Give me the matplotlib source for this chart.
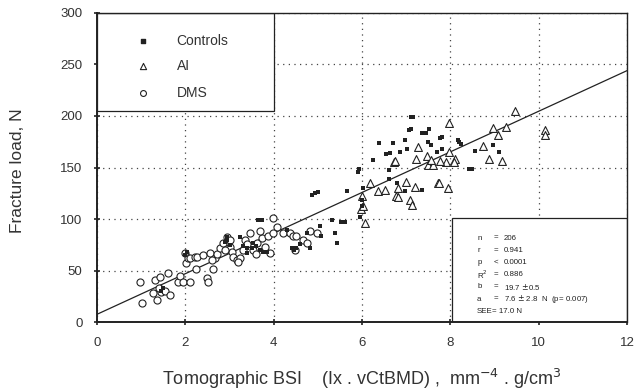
import matplotlib
matplotlib.use('Agg')
import matplotlib.pyplot as plt
from matplotlib.patches import Rectangle
import numpy as np

plt.rcParams['font.family'] = ['Liberation Sans', 'DejaVu Sans']

# data (x = tomographic BSI, y = fracture load N)
controls_x = [1.5, 1.45, 2.03, 2.0, 2.94, 2.95, 3.24, 3.39, 3.54, 3.69, 3.84, 3.73, 3.65, 3.0, 3.4,
              3.75, 4.29, 4.46, 4.5, 4.41, 4.75, 4.82, 4.86, 4.94, 5.0, 5.05, 5.07, 5.31, 5.39, 5.43,
              5.53, 5.61, 5.65, 5.95, 6.0, 6.0, 6.02, 5.93, 5.9, 6.25, 6.38, 6.6, 6.6, 6.63, 6.55,
              6.7, 6.86, 6.97, 6.97, 7.01, 7.06, 7.1, 7.11, 7.16, 7.35, 7.35, 7.52, 7.45, 7.69,
              7.77, 7.8, 7.8, 8.17, 8.2, 8.25, 8.42, 8.5, 8.56, 8.96, 9.1, 6.79, 7.5, 7.55,
              3.3, 3.5, 2.9, 3.6, 4.6]
controls_y = [33, 30, 68, 65, 83, 80, 83, 72, 77, 70, 68, 99, 99, 75, 67,
              68, 89, 70, 72, 72, 86, 72, 123, 125, 126, 93, 84, 99, 86, 77,
              97, 97, 127, 102, 113, 118, 130, 149, 146, 157, 174, 148, 139, 164, 163,
              174, 165, 177, 127, 168, 186, 187, 199, 199, 183, 128, 187, 183, 165,
              179, 168, 180, 177, 175, 173, 149, 149, 166, 172, 165, 135, 175, 172,
              74, 72, 78, 74, 76]

ai_x = [5.99, 5.98, 6.07, 6.03, 6.18, 6.36, 6.52, 6.78, 6.81, 6.73, 6.81, 7.09, 7.12, 7.2, 7.0,
        7.22, 7.26, 7.46, 7.5, 7.6, 7.57, 7.72, 7.74, 7.89, 7.94, 7.97, 7.97, 8.1, 8.08, 8.74,
        8.87, 8.97, 9.08, 9.17, 9.27, 9.46, 10.15, 10.15, 6.75, 7.77]
ai_y = [122, 110, 96, 113, 135, 127, 128, 122, 130, 155, 121, 118, 114, 131, 136,
        158, 170, 161, 152, 152, 157, 135, 135, 155, 130, 165, 193, 158, 155, 171,
        158, 188, 182, 156, 189, 205, 186, 182, 156, 156]

dms_x = [0.97, 1.01, 1.27, 1.31, 1.35, 1.43, 1.46, 1.55, 1.61, 1.65, 1.4, 1.83, 1.88, 1.95, 2.1,
         1.99, 2.01, 2.05, 2.1, 2.22, 2.25, 2.26, 2.4, 2.48, 2.51, 2.56, 2.63, 2.67, 2.6, 2.72,
         2.78, 2.86, 2.94, 3.01, 3.05, 3.08, 3.16, 3.24, 3.2, 3.31, 3.35, 3.46, 3.53, 3.62, 3.73,
         3.8, 3.87, 3.92, 3.99, 4.07, 4.21, 3.99, 4.37, 4.44, 4.5, 4.67, 4.75, 4.82, 4.97, 4.48,
         3.0, 3.4, 3.6, 2.9, 3.7]
dms_y = [39, 19, 28, 41, 21, 44, 29, 30, 48, 26, 33, 39, 45, 39, 39,
         67, 57, 62, 62, 63, 52, 63, 65, 43, 39, 67, 52, 62, 60, 66,
         72, 77, 83, 73, 68, 63, 60, 62, 58, 70, 80, 86, 70, 77, 82,
         73, 84, 67, 101, 92, 86, 86, 86, 84, 84, 80, 77, 88, 86, 70,
         80, 76, 66, 70, 88]

slope = 19.7
intercept = 7.6

stats_labels = ['n', 'r', 'p', 'R$^2$', 'b', 'a', 'SEE']
stats_ops = ['=', '=', '<', '=', '=', '=', '']
stats_values = ['206', '0.941', '0.0001', '0.886', '19.7 $\\pm$0.5',
                '7.6 $\\pm$ 2.8  N  (p= 0.007)', '= 17.0 N']

ink = '#222222'

fig = plt.figure(figsize=(6.36, 3.9), dpi=100)
ax = fig.add_axes([0.1525, 0.174, 0.8335, 0.793])

ax.set_xlim(0, 12)
ax.set_ylim(0, 300)
ax.set_xticks(np.arange(0, 13, 2))
ax.set_yticks(np.arange(0, 301, 50))
ax.grid(True, linestyle=(0, (1, 3.5)), color='#444444', linewidth=0.9)
ax.set_axisbelow(True)

for s in ax.spines.values():
    s.set_color(ink)
    s.set_linewidth(1.0)
ax.spines['left'].set_linewidth(1.4)
ax.spines['bottom'].set_linewidth(1.4)
ax.tick_params(direction='inout', length=5, width=1.2, colors=ink, labelsize=9.5,
               labelcolor='#333333', pad=8)

# regression line
xl = np.array([0, 12])
ax.plot(xl, intercept + slope * xl, color=ink, linewidth=0.9, zorder=3)

ax.scatter(dms_x, dms_y, marker='o', s=26, facecolors='white', edgecolors=ink,
           linewidths=0.8, zorder=4)
ax.scatter(ai_x, ai_y, marker='^', s=32, facecolors='white', edgecolors=ink,
           linewidths=0.8, zorder=4)
ax.scatter(controls_x, controls_y, marker='s', s=10, color=ink, linewidths=0, zorder=5)

# legend box (top left)
ax.add_patch(Rectangle((0, 0.683), 0.333, 0.317, transform=ax.transAxes,
                       facecolor='white', edgecolor=ink, linewidth=0.9, zorder=2))
leg_y = [0.91, 0.828, 0.742]
leg_m = [('s', 7), ('^', 20), ('o', 18)]
for (m, sz), yy, lab in zip(leg_m, leg_y, ['Controls', 'AI', 'DMS']):
    if m == 's':
        ax.scatter([0.087], [yy], marker=m, s=sz, color=ink, transform=ax.transAxes, zorder=6)
    else:
        ax.scatter([0.087], [yy], marker=m, s=sz, facecolors='white', edgecolors=ink,
                   linewidths=0.8, transform=ax.transAxes, zorder=6)
    ax.text(0.15, yy, lab, transform=ax.transAxes, fontsize=10, color='#333333',
            va='center', ha='left', zorder=6)

# statistics box (bottom right)
ax.add_patch(Rectangle((0.67, 0), 0.33, 0.337, transform=ax.transAxes,
                       facecolor='white', edgecolor=ink, linewidth=0.9, zorder=2))
for i, (lab, op, val) in enumerate(zip(stats_labels, stats_ops, stats_values)):
    yy = 0.272 - i * 0.0395
    ax.text(0.717, yy, lab, transform=ax.transAxes, fontsize=5.7, color=ink, va='center', zorder=6)
    ax.text(0.748, yy, op, transform=ax.transAxes, fontsize=5.7, color=ink, va='center', zorder=6)
    ax.text(0.768 if op else 0.746, yy, val, transform=ax.transAxes, fontsize=5.7, color=ink,
            va='center', zorder=6)

ax.set_ylabel('Fracture load, N', fontsize=12.5, color='#333333')
ax.yaxis.set_label_coords(-0.136, 0.49)
ax.set_xlabel('Tomographic BSI    (Ix . vCtBMD) ,  mm$^{-4}$ . g/cm$^{3}$',
              fontsize=13, color='#333333', labelpad=13)

fig.savefig('out.png', dpi=100)
